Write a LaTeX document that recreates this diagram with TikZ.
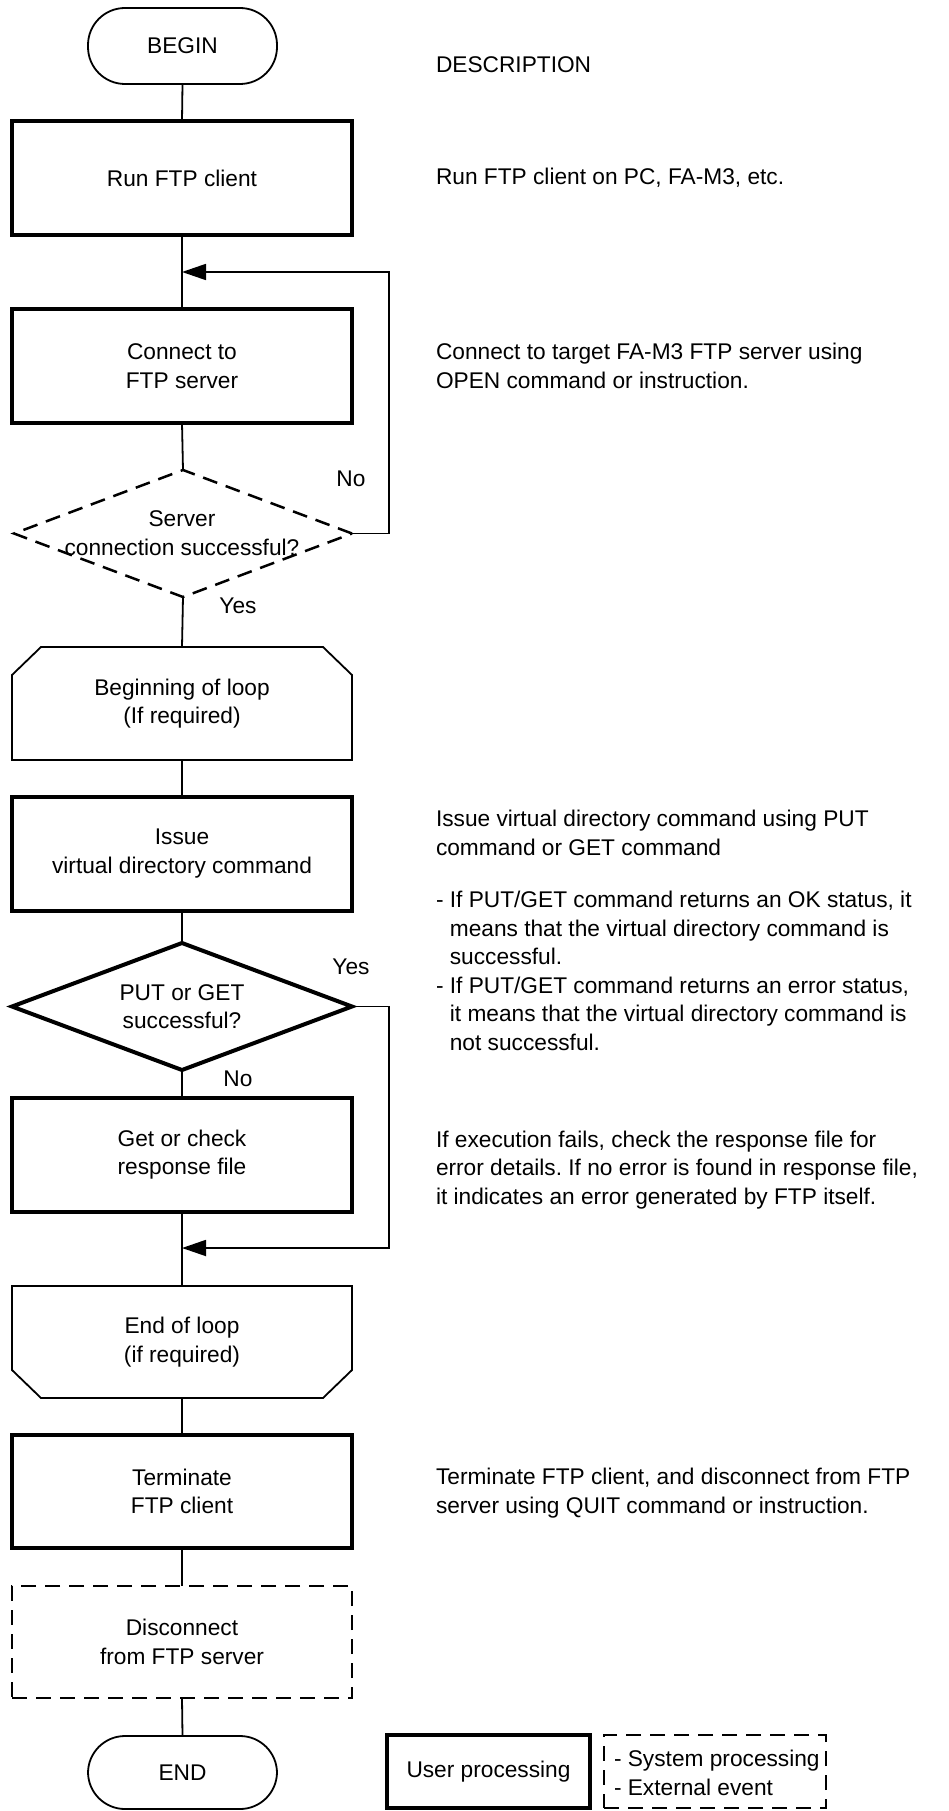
\documentclass[tikz,border=0pt]{standalone}
\usepackage{fontspec}
\setmainfont{Liberation Sans}
\usetikzlibrary{arrows.meta,shapes.geometric}
\begin{document}
\frenchspacing
\begin{tikzpicture}[x=1pt,y=-1pt,
  every node/.style={font=\fontsize{22.7}{28.5}\selectfont, inner sep=0pt, outer sep=0pt},
  userbox/.style={draw, line width=4pt, minimum width=340pt, minimum height=114pt, align=center},
  sysbox/.style={draw, line width=2.5pt, dash pattern=on 15pt off 9pt, minimum width=340pt, minimum height=112pt, align=center},
  loopbox/.style={minimum width=340pt, minimum height=113pt, align=center},
  termbox/.style={draw, line width=1.8pt, rounded corners=37pt, minimum width=189pt},
  dec/.style={diamond, draw, minimum width=338pt, minimum height=127pt},
  conn/.style={line width=1.8pt},
  desc/.style={anchor=base west, align=left},
  lbl/.style={anchor=base},
  backarrow/.style={conn, -{Triangle[length=24pt,width=16pt]}}
]
\useasboundingbox (0,0) rectangle (948,1811);

% main flow
\node[termbox, minimum height=76pt] (begin) at (182.5,46) {BEGIN};
\node[userbox] (run) at (182,178) {Run FTP client};
\node[userbox] (conn) at (182,366) {Connect to\\FTP server};
\node[dec, line width=2.5pt, dash pattern=on 15pt off 9pt] (d1) at (183,533.5) {};
\node[lbl] (d1a) at (182,526) {Server};
\node[lbl] (d1b) at (182,555) {connection successful?};
\node[loopbox] (lb) at (182,703.5) {Beginning of loop\\(If required)};
\draw[conn] ([xshift=29pt]lb.north west) -- ([xshift=-29pt]lb.north east) -- ([yshift=-28pt]lb.north east) -- (lb.south east) -- (lb.south west) -- ([yshift=-28pt]lb.north west) -- cycle;
\node[userbox] (issue) at (182,853.5) {Issue\\virtual directory command};
\node[dec, line width=4pt, minimum width=340pt] (d2) at (182,1006.5) {};
\node[lbl] (d2a) at (182,1000) {PUT or GET};
\node[lbl] (d2b) at (182,1028) {successful?};
\node[userbox] (get) at (182,1154.5) {Get or check\\response file};
\node[loopbox, minimum height=112pt] (le) at (182,1342) {End of loop\\(if required)};
\draw[conn] (le.north west) -- (le.north east) -- ([yshift=28pt]le.south east) -- ([xshift=-29pt]le.south east) -- ([xshift=29pt]le.south west) -- ([yshift=28pt]le.south west) -- cycle;
\node[userbox, minimum height=113pt] (term) at (182,1491.5) {Terminate\\FTP client};
\node[sysbox] (disc) at (182,1642) {Disconnect\\from FTP server};
\node[termbox, minimum height=73pt] (end) at (182.5,1772.5) {END};

% connectors
\draw[conn] (begin.south) -- (run.north);
\draw[conn] (run.south) -- (conn.north);
\draw[conn] (conn.south) -- (d1.north);
\draw[conn] (d1.south) -- (lb.north);
\draw[conn] (lb.south) -- (issue.north);
\draw[conn] (issue.south) -- (d2.north);
\draw[conn] (d2.south) -- (get.north);
\draw[conn] (get.south) -- (le.north);
\draw[conn] (le.south) -- (term.north);
\draw[conn] (term.south) -- (disc.north);
\draw[conn] (disc.south) -- (end.north);

\coordinate (j1) at (182,272);
\coordinate (r1) at (389,272);
\draw[backarrow] (d1.east) -| (r1) -- (j1);
\coordinate (j2) at (182,1248);
\coordinate (r2) at (389,1248);
\draw[backarrow] (d2.east) -| (r2) -- (j2);

\node[lbl] (no1) at (351,486) {No};
\node[lbl] (yes1) at (238,613) {Yes};
\node[lbl] (yes2) at (351,974) {Yes};
\node[lbl] (no2) at (238,1086) {No};

% descriptions (base anchor = baseline of last line)
\node[desc] (dh) at (436,73) {DESCRIPTION};
\node[desc] (t1) at (436,185) {Run FTP client on PC, FA-M3, etc.};
\node[desc] (t2) at (436,388) {Connect to target FA-M3 FTP server using\\OPEN command or instruction.};
\node[desc] (t3) at (436,855) {Issue virtual directory command using PUT\\command or GET command};
\node[desc] (t4) at (436,1050) {- If PUT/GET command returns an OK status, it\\\hphantom{- }means that the virtual directory command is\\\hphantom{- }successful.\\- If PUT/GET command returns an error status,\\\hphantom{- }it means that the virtual directory command is\\\hphantom{- }not successful.};
\node[desc] (t5) at (436,1204) {If execution fails, check the response file for\\error details. If no error is found in response file,\\it indicates an error generated by FTP itself.};
\node[desc] (t6) at (436,1513) {Terminate FTP client, and disconnect from FTP\\server using QUIT command or instruction.};

% legend
\node[userbox, minimum width=203pt, minimum height=73pt] (lu) at (488.5,1771.5) {User processing};
\node[sysbox, minimum width=222pt, minimum height=73pt] (ls) at (715,1771.5) {};
\node[desc] (ls1) at (614,1766) {- System processing};
\node[desc] (ls2) at (614,1795) {- External event};
\end{tikzpicture}
\end{document}
